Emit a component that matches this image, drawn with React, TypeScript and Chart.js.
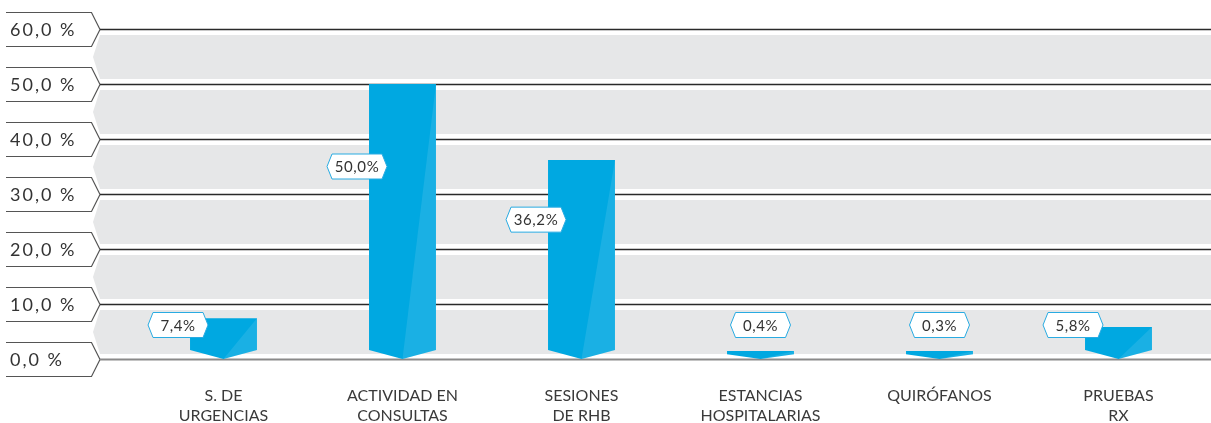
import React, { useEffect, useRef } from "react";
import { Chart, registerables } from "chart.js";
Chart.register(...registerables);

const categories: string[][] = [
  ["S. DE", "URGENCIAS"],
  ["ACTIVIDAD EN", "CONSULTAS"],
  ["SESIONES", "DE RHB"],
  ["ESTANCIAS", "HOSPITALARIAS"],
  ["QUIRÓFANOS"],
  ["PRUEBAS", "RX"],
];
const values = [7.4, 50.0, 36.2, 0.4, 0.3, 5.8];
const valueLabels = ["7,4%", "50,0%", "36,2%", "0,4%", "0,3%", "5,8%"];
const yTicks = [0, 10, 20, 30, 40, 50, 60];
const yTickLabels = ["0,0 %", "10,0 %", "20,0 %", "30,0 %", "40,0 %", "50,0 %", "60,0 %"];

const BAR = "#00a8e1";
const FONT = "Lato, 'Open Sans', sans-serif";

const decorPlugin = {
  id: "decor",
  beforeDatasetsDraw(chart: any) {
    const { ctx } = chart;
    const y = chart.scales.y;
    const W = chart.width;
    ctx.save();
    // grey bands
    for (let i = 0; i < yTicks.length - 1; i++) {
      const lower = y.getPixelForValue(yTicks[i]);
      const upper = y.getPixelForValue(yTicks[i + 1]);
      const top = upper + 6;
      const bot = lower - 5;
      const mid = (top + bot) / 2;
      ctx.beginPath();
      ctx.moveTo(W, top);
      ctx.lineTo(100, top);
      ctx.lineTo(93, mid);
      ctx.lineTo(100, bot);
      ctx.lineTo(W, bot);
      ctx.closePath();
      ctx.fillStyle = "#e6e7e8";
      ctx.fill();
    }
    // label boxes + gridlines
    yTicks.forEach((t, i) => {
      const gy = Math.round(y.getPixelForValue(t)) + 0.5;
      ctx.lineWidth = 1.2;
      ctx.strokeStyle = "#555555";
      ctx.beginPath();
      ctx.moveTo(6, gy - 17);
      ctx.lineTo(91.5, gy - 17);
      ctx.lineTo(100, gy);
      ctx.lineTo(91.5, gy + 17);
      ctx.lineTo(6, gy + 17);
      ctx.stroke();
      ctx.beginPath();
      ctx.moveTo(100, gy);
      ctx.lineTo(W, gy);
      if (t === 0) {
        ctx.strokeStyle = "#8a8a8a";
        ctx.lineWidth = 2.2;
      } else {
        ctx.strokeStyle = "#2a2a2a";
        ctx.lineWidth = 1.4;
      }
      ctx.stroke();
      ctx.fillStyle = "#333333";
      ctx.font = `400 18px ${FONT}`;
      (ctx as any).letterSpacing = "2px";
      ctx.textAlign = "left";
      ctx.textBaseline = "middle";
      ctx.fillText(yTickLabels[i], 10, gy + 1);
      (ctx as any).letterSpacing = "0px";
    });
    ctx.restore();
  },
  afterDatasetsDraw(chart: any) {
    const { ctx } = chart;
    const meta = chart.getDatasetMeta(0);
    ctx.save();
    meta.data.forEach((el: any, i: number) => {
      const { x, y, base, width } = el.getProps(["x", "y", "base", "width"], true);
      const left = x - width / 2;
      const right = x + width / 2;
      let h = base - y;
      if (h < 8) h = 8;
      const top = base - h;
      const depth = Math.min(9, h * 0.6);
      // body
      ctx.beginPath();
      ctx.moveTo(left, top);
      ctx.lineTo(right, top);
      ctx.lineTo(right, base - depth);
      ctx.lineTo(x, base);
      ctx.lineTo(left, base - depth);
      ctx.closePath();
      ctx.fillStyle = BAR;
      ctx.fill();
      // highlight
      ctx.beginPath();
      ctx.moveTo(right, top);
      ctx.lineTo(right, base - depth);
      ctx.lineTo(x, base);
      ctx.closePath();
      ctx.fillStyle = "rgba(255,255,255,0.1)";
      ctx.fill();

      // value label
      const bw = 60;
      const bh = 25;
      const cy = Math.min(base - 0.7 * (base - y), base - 34);
      const cx = values[i] < 1 ? x : left + 18 - bw / 2;
      const l = cx - bw / 2;
      const r = cx + bw / 2;
      ctx.beginPath();
      ctx.moveTo(l + 5, cy - bh / 2);
      ctx.lineTo(r - 5, cy - bh / 2);
      ctx.lineTo(r, cy);
      ctx.lineTo(r - 5, cy + bh / 2);
      ctx.lineTo(l + 5, cy + bh / 2);
      ctx.lineTo(l, cy);
      ctx.closePath();
      ctx.fillStyle = "#ffffff";
      ctx.fill();
      ctx.lineWidth = 1;
      ctx.strokeStyle = "#29abe2";
      ctx.stroke();
      ctx.fillStyle = "#333333";
      ctx.font = `400 15px ${FONT}`;
      (ctx as any).letterSpacing = "0.6px";
      ctx.textAlign = "center";
      ctx.textBaseline = "middle";
      ctx.fillText(valueLabels[i], cx, cy + 1);
      (ctx as any).letterSpacing = "0px";
    });
    ctx.restore();
  },
};

export default function App() {
  const ref = useRef<HTMLCanvasElement>(null);
  useEffect(() => {
    if (!ref.current) return;
    const chart = new Chart(ref.current, {
      type: "bar",
      data: {
        labels: categories,
        datasets: [
          {
            data: values,
            backgroundColor: "rgba(0,0,0,0)",
            borderWidth: 0,
            barPercentage: 0.374,
            categoryPercentage: 1,
          },
        ],
      },
      options: {
        animation: false,
        responsive: true,
        maintainAspectRatio: false,
        devicePixelRatio: 1,
        layout: { padding: { left: 134, right: 3, top: 29, bottom: 0 } },
        plugins: { legend: { display: false }, tooltip: { enabled: false } },
        scales: {
          x: {
            grid: { display: false, drawTicks: false },
            border: { display: false },
            afterFit: (scale: any) => {
              scale.height = 64;
            },
            ticks: {
              padding: 27,
              color: "#3a3a3a",
              autoSkip: false,
              maxRotation: 0,
              font: { family: FONT, size: 16, lineHeight: 1.25 },
            },
          },
          y: { display: false, min: 0, max: 60, ticks: { stepSize: 10 } },
        },
      },
      plugins: [decorPlugin],
    });
    return () => chart.destroy();
  }, []);
  return (
    <div style={{ position: "fixed", left: 0, top: 0, width: 1211, height: 423 }}>
      <canvas ref={ref} />
    </div>
  );
}
